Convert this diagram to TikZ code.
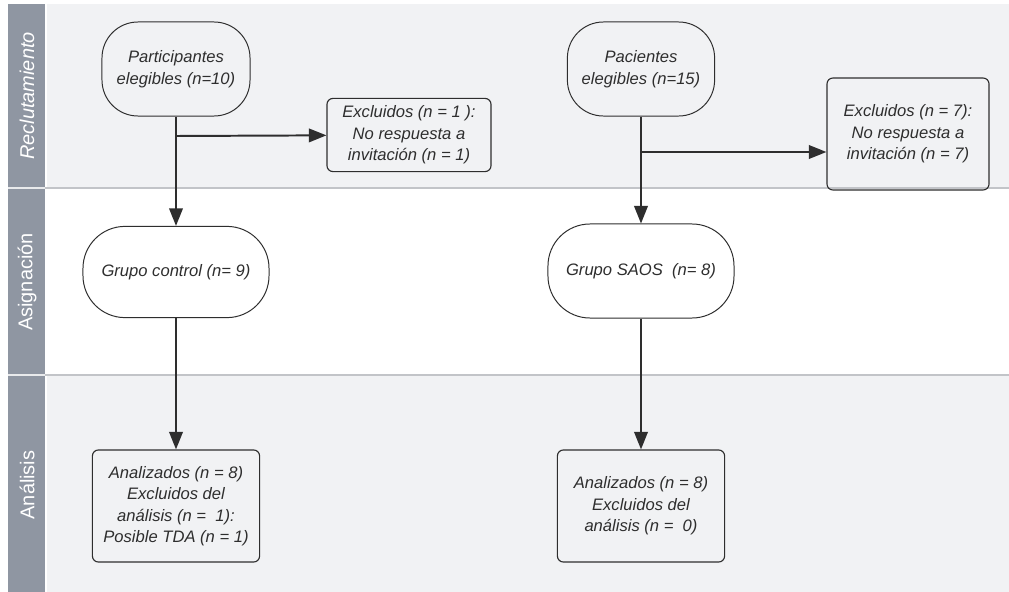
\documentclass[tikz,border=0pt]{standalone}
\usepackage{fontspec}
\setmainfont{Liberation Sans}
\usepackage{xcolor}
\usetikzlibrary{arrows.meta,positioning,calc}
\definecolor{lanegray}{HTML}{F1F2F4}
\definecolor{headgray}{HTML}{8F96A2}
\definecolor{sepgray}{HTML}{C2C4C8}
\definecolor{ink}{HTML}{2E2E2E}
\tikzset{
  term/.style={rectangle, rounded corners=0.9cm, draw=ink, line width=0.7pt,
               align=center, text=ink, inner sep=2pt,
               font=\fontsize{11.8}{15.3}\selectfont\itshape},
  infobox/.style={rectangle, rounded corners=0.15cm, draw=ink, line width=0.8pt,
                  align=center, text=ink, inner sep=2pt,
                  font=\fontsize{11.8}{15.3}\selectfont\itshape},
  lanelabel/.style={rotate=90, text=white, font=\fontsize{14.2}{16}\selectfont},
  ar/.style={-{Triangle[length=4.4mm,width=3.4mm]}, draw=ink, line width=1.4pt}
}
\begin{document}
\begin{tikzpicture}[x=0.025cm, y=-0.025cm]
\useasboundingbox (0,0) rectangle (1009,592);
\fill[lanegray] (47,4) rectangle (1009,188);
\fill[white] (47,188) rectangle (1009,375);
\fill[lanegray] (47,375) rectangle (1009,592);
\fill[headgray] (8,4) rectangle (45,592);
\draw[white!80!headgray, line width=0.8pt] (8,188) -- (45,188) (8,375) -- (45,375);
\draw[sepgray, line width=0.9pt] (45,188) -- (1009,188) (45,375) -- (1009,375);
\node[lanelabel, font=\fontsize{14.2}{16}\selectfont\itshape] (l1) at (27,96) {Reclutamiento};
\node[lanelabel] (l2) at (27,282) {Asignación};
\node[lanelabel] (l3) at (27,485) {Análisis};

\node[term, minimum width=3.7cm, minimum height=2.35cm] (a) at (176,69) {Participantes\\elegibles (n=10)};
\node[infobox, minimum width=4.1cm, minimum height=1.83cm] (b) at (409,135) {Excluidos (n = 1 ):\\No respuesta a\\invitación (n = 1)};
\node[term, minimum width=4.65cm, minimum height=2.28cm, rounded corners=1.05cm] (c) at (176,272) {Grupo control (n= 9)};
\node[infobox, minimum width=4.18cm, minimum height=2.8cm] (d) at (176,506) {Analizados (n = 8)\\Excluidos del\\análisis (n =\ \ 1):\\Posible TDA (n = 1)};

\node[term, minimum width=3.68cm, minimum height=2.35cm] (e) at (641,69) {Pacientes\\elegibles (n=15)};
\node[infobox, minimum width=4.05cm, minimum height=2.8cm] (f) at (908,134) {Excluidos (n = 7):\\No respuesta a\\invitación (n = 7)};
\node[term, minimum width=4.65cm, minimum height=2.35cm, rounded corners=1.05cm] (g) at (641,271) {Grupo SAOS\ \ (n= 8)};
\node[infobox, minimum width=4.18cm, minimum height=2.8cm] (h) at (641,506) {Analizados (n = 8)\\Excluidos del\\análisis (n =\ \ 0)};

\coordinate (ab) at (176,136);
\coordinate (eb) at (641,152);
\draw[ar] (a) -- (c);
\draw[ar] (ab) -- (b);
\draw[ar] (c) -- (d);
\draw[ar] (e) -- (g);
\draw[ar] (eb) -- (eb -| f.west);
\draw[ar] (g) -- (h);
\end{tikzpicture}
\end{document}
